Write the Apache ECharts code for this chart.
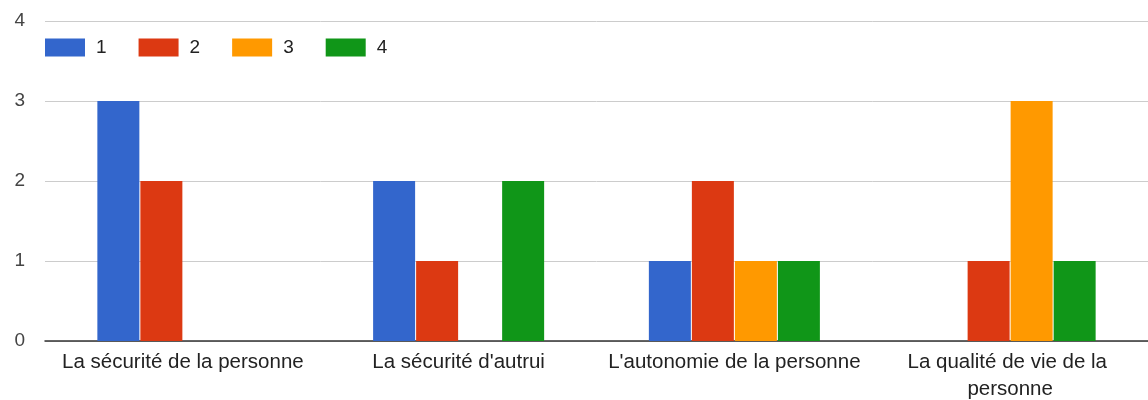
<!DOCTYPE html>
<html style="height: 100%">
<head>
    <meta charset="utf-8">
</head>
<body style="height: 100%; margin: 0; background: #fff">
<div id="bars" style="width: 1148px; height: 400px"></div>
<script src="https://cdn.jsdelivr.net/npm/echarts@6/dist/echarts.min.js"></script>
<script type="text/javascript">
    // données
    var categories = ['La sécurité de la personne', "La sécurité d'autrui", "L'autonomie de la personne", 'La qualité de vie de la personne'];
    var seriesNames = ['1', '2', '3', '4'];
    var values1 = [3, 2, 1, 0];
    var values2 = [2, 1, 2, 1];
    var values3 = [0, 0, 1, 3];
    var values4 = [0, 2, 1, 1];
    var yTicks = [0, 1, 2, 3, 4];

    var colors = ['#3366cc', '#dc3912', '#ff9900', '#109618'];
    var allValues = [values1, values2, values3, values4];

    var myBars = echarts.init(document.getElementById('bars'));

    var series = [];
    for (var i = 0; i < seriesNames.length; i++) {
        series.push({
            name: seriesNames[i],
            type: 'bar',
            barWidth: 42,
            barGap: '2.4%',
            itemStyle: { color: colors[i] },
            data: allValues[i]
        });
    }

    myBars.setOption({
        animation: false,
        textStyle: { fontFamily: 'Liberation Sans, Arial, sans-serif' },
        color: colors,
        legend: {
            left: 40,
            top: 33,
            itemWidth: 40,
            itemHeight: 18,
            itemGap: 32,
            icon: 'rect',
            textStyle: { fontSize: 19, color: '#222', padding: [0, 0, 0, 6] },
            data: seriesNames
        },
        grid: { left: 45, right: 0, top: 21, bottom: 59, outerBoundsMode: 'none', containLabel: false },
        xAxis: {
            type: 'category',
            data: categories,
            axisLine: { lineStyle: { color: '#333', width: 1.5 } },
            axisTick: { show: false },
            axisLabel: {
                fontSize: 20.5,
                color: '#222',
                margin: 8,
                lineHeight: 27,
                width: 270,
                overflow: 'break',
                interval: 0
            }
        },
        yAxis: {
            type: 'value',
            min: yTicks[0],
            max: yTicks[yTicks.length - 1],
            interval: 1,
            axisLabel: { fontSize: 19, color: '#444', margin: 20 },
            splitLine: { lineStyle: { color: '#cccccc' } }
        },
        series: series
    });
</script>
</body>
</html>
